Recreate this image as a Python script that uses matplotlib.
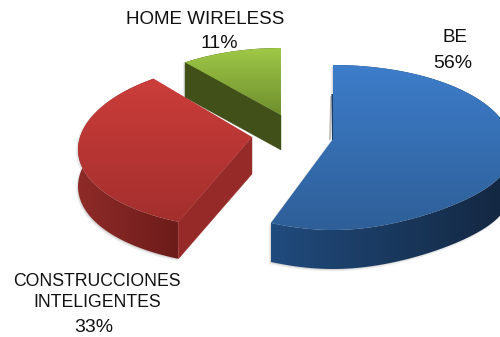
import numpy as np
import matplotlib
matplotlib.use("Agg")
import matplotlib.pyplot as plt
from matplotlib.patches import Polygon
from matplotlib.colors import LinearSegmentedColormap

labels = ["BE", "CONSTRUCCIONES\nINTELIGENTES", "HOME WIRELESS"]
shares = [56, 33, 11]

plt.rcParams["font.family"] = ["Liberation Sans", "DejaVu Sans"]

# one dict per slice: apex pixel, radii, perspective terms, extrusion depth and colours
slices = [
    dict(apex=(333, 139), a=178, back=74, front=91, kx=0.1, pinch=0.5, depth=39,
         top=("#3d7dca", "#2e5f98"), rim=("#204b7d", "#13263f"), cut=None),
    dict(apex=(252, 137), a=172, back=74, front=92, kx=0.15, pinch=0.0, depth=37,
         top=("#cb3d3a", "#a32f2d"), rim=("#8e2b28", "#6c1c1a"), cut="#962a28"),
    dict(apex=(281, 115), a=168, back=67, front=80, kx=0.15, pinch=0.0, depth=35,
         top=("#9fc847", "#6e8e2d"), rim=("#414f18", "#414f18"), cut="#414f18"),
]


def project(s, angle):
    # angle runs clockwise from twelve o'clock, the near side of the pie is drawn larger
    u, v = np.sin(angle), np.cos(angle)
    b = 2 * s["back"] * s["front"] / (s["back"] + s["front"])
    k = (s["front"] - s["back"]) / (s["back"] + s["front"])
    taper = 1 - s["pinch"] * np.clip(-v - 0.4, 0, None) ** 2
    x = s["apex"][0] + s["a"] * u * taper / (1 + s["kx"] * v)
    y = s["apex"][1] - b * v / (1 + k * v)
    return np.column_stack([x, y])


def fill_gradient(ax, pts, colors, zorder, vertical=True):
    cmap = LinearSegmentedColormap.from_list("g", colors)
    x0, x1 = pts[:, 0].min(), pts[:, 0].max()
    y0, y1 = pts[:, 1].min(), pts[:, 1].max()
    ramp = np.linspace(0, 1, 256)
    ramp = ramp[:, None] if vertical else ramp[None, :]
    im = ax.imshow(ramp, cmap=cmap, extent=(x0, x1, y1, y0), origin="upper",
                   aspect="auto", interpolation="bilinear", zorder=zorder)
    clip = Polygon(pts, closed=True, transform=ax.transData, fc="none", ec="none")
    ax.add_patch(clip)
    im.set_clip_path(clip)


def draw_slice(ax, s, start, end):
    arc = project(s, np.linspace(start, end, 160))
    apex = np.array(s["apex"], dtype=float)
    down = np.array([0, s["depth"]])
    wall = np.vstack([arc, arc[::-1] + down])
    surface = np.vstack([apex, arc])

    # soft grey edge behind the solid
    for shape in (wall, surface):
        ax.add_patch(Polygon(shape + [-1.2, 1.5], fc="#d2d2d2", ec="#ececec", lw=1.0, zorder=2))

    fill_gradient(ax, wall, s["rim"], 3, vertical=False)

    # flat cut face along the slice start, only where it turns towards the viewer
    if s["cut"] is not None:
        corner = arc[0]
        face = np.array([apex, corner, corner + down, apex + down])
        ax.add_patch(Polygon(face, fc=s["cut"], ec=s["cut"], lw=0.3, zorder=4))

    fill_gradient(ax, surface, s["top"], 5)


fig = plt.figure(figsize=(5, 3.37), dpi=100)
ax = fig.add_axes([0, 0, 1, 1])

edges = np.cumsum([0] + shares) / sum(shares) * 2 * np.pi
for i in [2, 1, 0]:
    draw_slice(ax, slices[i], edges[i], edges[i + 1])

# thin dark sliver of the blue slice's back face
tip = project(slices[0], edges[0])[0]
ax.plot([tip[0] - 0.5, slices[0]["apex"][0]], [tip[1] + 30, slices[0]["apex"][1]],
        color="#1b3a5f", lw=1.4, zorder=4)
ax.plot([tip[0] - 2, slices[0]["apex"][0] - 3], [tip[1] + 32, slices[0]["apex"][1]],
        color="#b9b9b9", lw=1.2, zorder=2)

ax.set_xlim(0, 500)
ax.set_ylim(337, 0)
ax.axis("off")

# category and percentage labels
text_pos = [(455, 37, 453, 63), (97, 292, 94, 327), (205, 19, 219, 44)]
name_sizes = [13.5, 12.7, 13.5]
for name, share, size, (nx, ny, px, py) in zip(labels, shares, name_sizes, text_pos):
    ax.text(nx, ny, name, ha="center", va="center", fontsize=size, color="#111111",
            linespacing=1.25, zorder=7)
    ax.text(px, py, f"{share}%", ha="center", va="center", fontsize=14, color="#111111", zorder=7)

fig.savefig("out.png", dpi=100)
